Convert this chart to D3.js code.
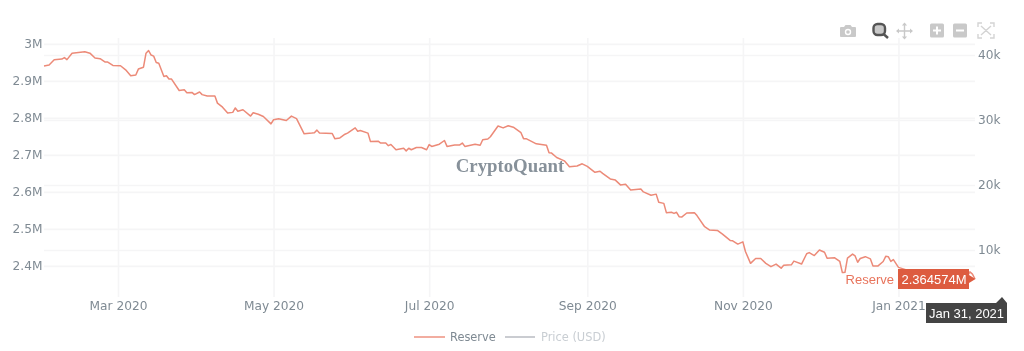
<!DOCTYPE html>
<html>
<head>
<meta charset="utf-8">
<script src="https://cdn.jsdelivr.net/npm/d3@7"></script>
<style>
  html, body { margin: 0; padding: 0; background: #fff; overflow: hidden; }
  svg { display: block; font-family: "DejaVu Sans", sans-serif; filter: blur(0.35px); }
  .grid line { stroke: #f5f5f6; stroke-width: 1.6; }
  .tick text { fill: #7f8a93; font-size: 12.2px; font-family: "DejaVu Sans", sans-serif; }
  .domain { display: none; }
</style>
</head>
<body>
<div id="chart"></div>
<script>
// values. days counted from the start date
const startDate = "2020-02-01";
const reserveDays = [0,2,4,7,8,9,11,16,18,20,22,24,25,27,30,32,34,36,37,39,40,41,42,43,44,45,47,48,49,50,
  53,55,56,58,59,61,62,64,67,68,70,72,74,75,76,78,81,82,84,86,89,90,92,95,97,99,102,105,106,107,108,113,114,116,
  118,119,122,123,124,127,128,131,132,134,135,136,138,141,142,143,144,146,148,150,151,152,155,157,158,161,163,164,165,
  169,171,172,174,175,178,180,182,184,187,188,189,193,197,198,199,201,204,206,209,211,213,216,218,219,222,224,226,228,
  230,234,235,238,240,241,243,244,246,247,248,249,250,252,255,256,259,261,264,266,269,270,272,274,275,277,279,281,283,
  285,287,289,290,293,294,297,299,300,302,304,306,307,310,312,313,314,315,317,318,319,320,322,324,325,327,329,330,331,
  332,333,335,340,347,354,359,362,363,364,365];
const reserveValues = [2.9405,2.943,2.957,2.959,2.963,2.9575,2.975,2.979,2.975,2.962,2.960,2.951,2.951,2.942,2.941,2.93,2.914,2.916,2.932,2.937,
  2.975,2.982,2.970,2.967,2.950,2.948,2.912,2.914,2.905,2.905,
  2.874,2.876,2.868,2.869,2.863,2.870,2.863,2.859,2.859,2.840,2.829,2.813,2.815,2.827,2.818,2.822,2.805,2.814,2.810,2.804,
  2.784,2.795,2.798,2.793,2.805,2.798,2.757,2.759,2.760,2.767,2.759,2.758,2.744,2.746,
  2.756,2.759,2.773,2.764,2.766,2.759,2.736,2.737,2.732,2.732,2.725,2.728,2.714,2.718,2.711,2.718,2.714,2.720,2.720,2.714,2.728,2.723,2.729,2.739,2.723,2.727,2.727,2.732,2.723,
  2.729,2.726,2.741,2.743,2.749,2.778,2.773,2.779,2.775,2.760,2.744,2.744,2.730,2.726,2.706,2.705,2.693,2.684,2.668,2.670,2.676,2.669,2.653,2.656,2.650,2.635,2.632,2.619,2.621,
  2.605,2.608,2.600,2.591,2.594,2.572,2.569,2.544,2.545,2.542,2.545,2.533,2.532,2.543,2.544,2.536,2.506,2.497,2.496,2.486,2.469,2.468,2.459,2.465,2.439,2.407,2.420,2.420,2.407,
  2.398,2.405,2.394,2.402,2.403,2.413,2.405,2.433,2.436,2.428,2.443,2.437,2.421,2.422,2.412,2.382,2.382,2.421,2.432,2.427,2.410,2.420,2.425,2.419,2.400,2.400,2.412,2.426,2.425,
  2.412,2.417,2.396,2.385,2.375,2.368,2.366,2.372,2.384,2.378,2.3646];

const leftTicks = [3, 2.9, 2.8, 2.7, 2.6, 2.5, 2.4];
const leftLabels = ["3M", "2.9M", "2.8M", "2.7M", "2.6M", "2.5M", "2.4M"];
const rightTicks = [40, 30, 20, 10];
const rightLabels = ["40k", "30k", "20k", "10k"];
const monthTicks = ["2020-03-01", "2020-05-01", "2020-07-01", "2020-09-01", "2020-11-01", "2021-01-01"];
const monthLabels = ["Mar 2020", "May 2020", "Jul 2020", "Sep 2020", "Nov 2020", "Jan 2021"];

const lineColor = "#ec8a78";
const labelRed = "#dd5c40";

const svg = d3.select("#chart").append("svg")
    .attr("width", 1024)
    .attr("height", 351);

const parse = d3.utcParse("%Y-%m-%d");
const start = parse(startDate);
const dates = reserveDays.map(d => d3.utcDay.offset(start, d));

const plot = {left: 44, right: 975, top: 38, bottom: 297};

// scales
const x = d3.scaleUtc()
    .domain([start, parse("2021-01-31")])
    .range([plot.left, plot.right]);
const y = d3.scaleLinear()
    .domain([2.316, 3.016])
    .range([plot.bottom, plot.top]);
const yRight = d3.scaleLinear()
    .domain([2.77, 42.62])
    .range([plot.bottom, plot.top]);

// axes, tick lines are the gridlines
const xAxis = d3.axisBottom(x)
    .tickValues(monthTicks.map(parse))
    .tickSize(-(plot.bottom - plot.top))
    .tickPadding(4)
    .tickFormat((d, i) => monthLabels[i]);
svg.append("g")
    .attr("class", "grid")
    .attr("transform", `translate(0, ${plot.bottom})`)
    .call(xAxis);

const leftAxis = d3.axisLeft(y)
    .tickValues(leftTicks)
    .tickSize(-(plot.right - plot.left))
    .tickPadding(1.5)
    .tickFormat((d, i) => leftLabels[i]);
svg.append("g")
    .attr("class", "grid")
    .attr("transform", `translate(${plot.left}, 0)`)
    .call(leftAxis);

const rightAxis = d3.axisRight(yRight)
    .tickValues(rightTicks)
    .tickSize(-(plot.right - plot.left))
    .tickPadding(3)
    .tickFormat((d, i) => rightLabels[i]);
svg.append("g")
    .attr("class", "grid")
    .attr("transform", `translate(${plot.right}, 0)`)
    .call(rightAxis);

// watermark sits under the line
svg.append("text")
    .attr("x", 510)
    .attr("y", 172)
    .attr("text-anchor", "middle")
    .attr("font-family", "'Liberation Serif', serif")
    .attr("font-weight", "bold")
    .attr("font-size", 18.8)
    .attr("fill", "#87919a")
    .text("CryptoQuant");

const line = d3.line()
    .x((d, i) => x(dates[i]))
    .y(d => y(d));

svg.append("path")
    .datum(reserveValues)
    .attr("fill", "none")
    .attr("stroke", lineColor)
    .attr("stroke-width", 1.5)
    .attr("stroke-linejoin", "round")
    .attr("d", line);

// hover labels
const lastX = x(dates[dates.length - 1]);
const lastY = y(reserveValues[reserveValues.length - 1]);
const hoverFont = "'Liberation Sans', sans-serif";

svg.append("text")
    .attr("x", 894)
    .attr("y", lastY + 4.5)
    .attr("text-anchor", "end")
    .attr("font-family", hoverFont)
    .attr("font-size", 13)
    .attr("fill", "#e8745c")
    .attr("stroke", "#fff")
    .attr("stroke-width", 4)
    .attr("paint-order", "stroke")
    .text("Reserve");

svg.append("path")
    .attr("fill", labelRed)
    .attr("d", d3.line()([[898, lastY - 10], [969, lastY - 10], [969, lastY - 4], [lastX + 0.5, lastY], [969, lastY + 4], [969, lastY + 10], [898, lastY + 10]]) + "Z");

svg.append("text")
    .attr("x", 934)
    .attr("y", lastY + 4.5)
    .attr("text-anchor", "middle")
    .attr("font-family", hoverFont)
    .attr("font-size", 13)
    .attr("fill", "#fff")
    .text("2.364574M");

const dateLeft = 926, dateTop = 303;
svg.append("path")
    .attr("fill", "#444")
    .attr("d", d3.line()([[dateLeft, dateTop], [996, dateTop], [1002, dateTop - 6], [1007, dateTop], [1007, dateTop + 20], [dateLeft, dateTop + 20]]) + "Z");

svg.append("text")
    .attr("x", 966.5)
    .attr("y", dateTop + 14.5)
    .attr("text-anchor", "middle")
    .attr("font-family", hoverFont)
    .attr("font-size", 13)
    .attr("fill", "#fff")
    .text("Jan 31, 2021");

// legend
const legend = svg.append("g").attr("font-size", 11.4);
legend.append("line")
    .attr("x1", 414).attr("x2", 445).attr("y1", 337).attr("y2", 337)
    .attr("stroke", lineColor).attr("stroke-width", 1.4);
legend.append("text")
    .attr("x", 450).attr("y", 341).attr("fill", "#7f8a93").text("Reserve");
legend.append("line")
    .attr("x1", 505).attr("x2", 535).attr("y1", 337).attr("y2", 337)
    .attr("stroke", "#b4b6bd").attr("stroke-width", 1.4);
legend.append("text")
    .attr("x", 541).attr("y", 341).attr("fill", "#c9ced3").text("Price (USD)");

// modebar icons
const bar = svg.append("g");
const idle = "#c9c9c9";

// camera
bar.append("path").attr("fill", idle)
    .attr("d", "M841 27h3l1.5-2h5l1.5 2h3a1 1 0 0 1 1 1v8a1 1 0 0 1-1 1h-14a1 1 0 0 1-1-1v-8a1 1 0 0 1 1-1z");
bar.append("circle").attr("cx", 848).attr("cy", 32).attr("r", 3.2).attr("fill", "#fff");
bar.append("circle").attr("cx", 848).attr("cy", 32).attr("r", 1.8).attr("fill", idle);

// zoom, the active one
bar.append("rect").attr("x", 873.5).attr("y", 24).attr("width", 11.5).attr("height", 11).attr("rx", 4)
    .attr("fill", "#c9c9c9").attr("stroke", "#555").attr("stroke-width", 2.4);
bar.append("line").attr("x1", 883.5).attr("y1", 34).attr("x2", 888).attr("y2", 38)
    .attr("stroke", "#555").attr("stroke-width", 2.4);

// pan
bar.append("path").attr("fill", "none").attr("stroke", idle).attr("stroke-width", 1.4)
    .attr("d", "M897 31h15M904.5 23.5v15");
bar.append("path").attr("fill", idle)
    .attr("d", "M904.5 22.5l2.6 3h-5.2zM904.5 39.5l2.6-3h-5.2zM896 31l3-2.6v5.2zM913 31l-3-2.6v5.2z");

// plus and minus
bar.append("rect").attr("x", 930).attr("y", 23.5).attr("width", 14).attr("height", 14).attr("rx", 1.5).attr("fill", idle);
bar.append("path").attr("stroke", "#fff").attr("stroke-width", 2).attr("d", "M933 30.5h8M937 26.5v8");
bar.append("rect").attr("x", 953).attr("y", 23.5).attr("width", 14).attr("height", 14).attr("rx", 1.5).attr("fill", idle);
bar.append("path").attr("stroke", "#fff").attr("stroke-width", 2).attr("d", "M956 30.5h8");

// autoscale
bar.append("path").attr("fill", "none").attr("stroke", "#d4d4d4").attr("stroke-width", 1.4)
    .attr("d", "M978 27v-4h4M990 23h4v4M994 34v4h-4M982 38h-4v-4M981 26l10 9M991 26l-10 9");
</script>
</body>
</html>
